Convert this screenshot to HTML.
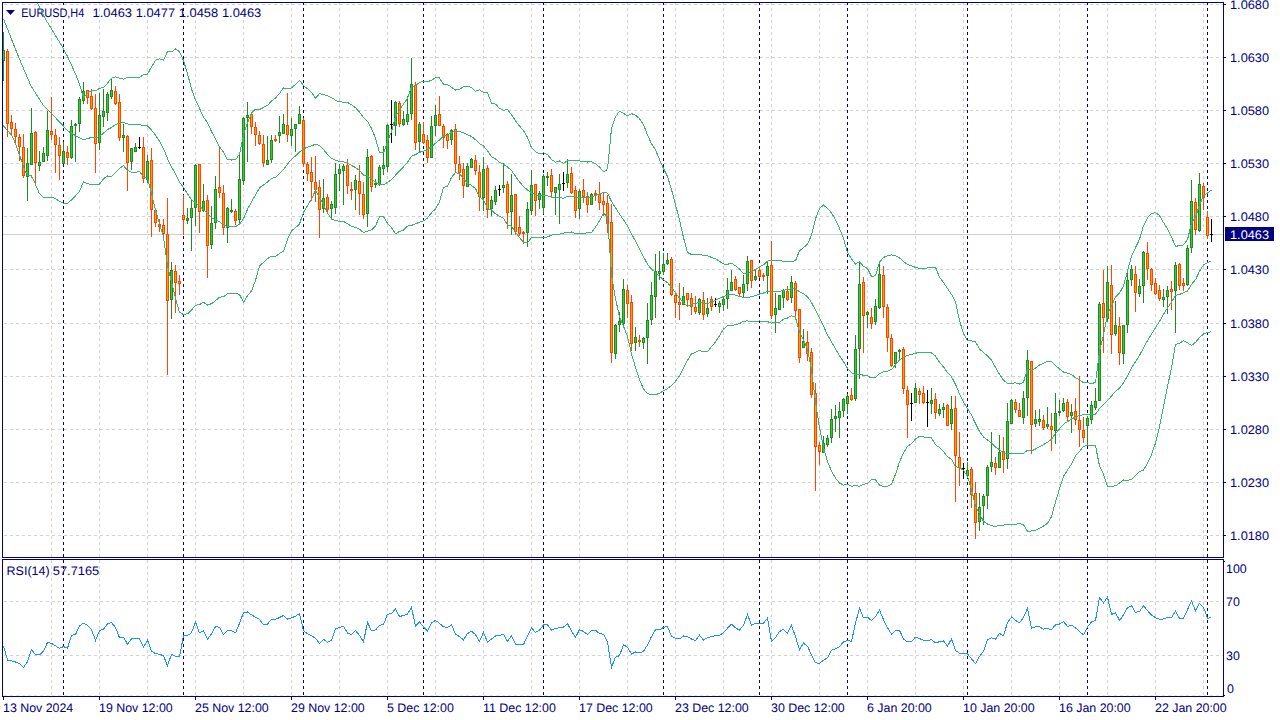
<!DOCTYPE html><html><head><meta charset="utf-8"><title>EURUSD,H4</title>
<style>html,body{margin:0;padding:0;background:#fff;width:1280px;height:720px;overflow:hidden}svg{display:block}text{font-family:"Liberation Sans",sans-serif;font-size:12.4px;fill:#000080}</style>
</head><body>
<svg width="1280" height="720" viewBox="0 0 1280 720" shape-rendering="crispEdges">
<rect width="1280" height="720" fill="#fff"/>
<path d="M51.5 2V557M51.5 560V696M99.5 2V557M99.5 560V696M147.5 2V557M147.5 560V696M195.5 2V557M195.5 560V696M243.5 2V557M243.5 560V696M291.5 2V557M291.5 560V696M339.5 2V557M339.5 560V696M387.5 2V557M387.5 560V696M435.5 2V557M435.5 560V696M483.5 2V557M483.5 560V696M531.5 2V557M531.5 560V696M579.5 2V557M579.5 560V696M627.5 2V557M627.5 560V696M675.5 2V557M675.5 560V696M723.5 2V557M723.5 560V696M771.5 2V557M771.5 560V696M819.5 2V557M819.5 560V696M867.5 2V557M867.5 560V696M915.5 2V557M915.5 560V696M963.5 2V557M963.5 560V696M1011.5 2V557M1011.5 560V696M1059.5 2V557M1059.5 560V696M1107.5 2V557M1107.5 560V696M1155.5 2V557M1155.5 560V696M1203.5 2V557M1203.5 560V696" stroke="#d2d2d2" stroke-width="1" stroke-dasharray="3,3" stroke-dashoffset="0" fill="none"/>
<path d="M4 4.5H1223M4 57.5H1223M4 110.5H1223M4 163.5H1223M4 216.5H1223M4 269.5H1223M4 323.5H1223M4 376.5H1223M4 429.5H1223M4 482.5H1223M4 535.5H1223M4 601.5H1223M4 655.5H1223" stroke="#d2d2d2" stroke-width="1" stroke-dasharray="3,3" fill="none"/>
<path d="M4 695.5H1223" stroke="#e6e6e0" stroke-width="1" stroke-dasharray="3,3" fill="none"/>
<path d="M3 234.5H1223" stroke="#d0d0d0" stroke-width="1" fill="none"/>
<path d="M63.5 2V5M63.5 20V557M63.5 560V696M183.5 2V557M183.5 560V696M303.5 2V557M303.5 560V696M423.5 2V557M423.5 560V696M543.5 2V557M543.5 560V696M663.5 2V557M663.5 560V696M759.5 2V557M759.5 560V696M847.5 2V557M847.5 560V696M967.5 2V557M967.5 560V696M1087.5 2V557M1087.5 560V696M1207.5 2V557M1207.5 560V696" stroke="#000080" stroke-width="1" stroke-dasharray="3,3" fill="none"/>
<g shape-rendering="auto" text-rendering="geometricPrecision">
<path d="M6 10H15L10.5 15Z" fill="#000080"/>
<text x="21.3" y="17" textLength="63" lengthAdjust="spacingAndGlyphs">EURUSD,H4</text>
<text x="92.6" y="17" textLength="39.4" lengthAdjust="spacingAndGlyphs">1.0463</text>
<text x="135.7" y="17" textLength="39.4" lengthAdjust="spacingAndGlyphs">1.0477</text>
<text x="178.8" y="17" textLength="39.4" lengthAdjust="spacingAndGlyphs">1.0458</text>
<text x="221.9" y="17" textLength="39.4" lengthAdjust="spacingAndGlyphs">1.0463</text>
<text x="6.6" y="575" textLength="43" lengthAdjust="spacingAndGlyphs">RSI(14)</text>
<text x="52.8" y="575" textLength="46.4" lengthAdjust="spacingAndGlyphs">57.7165</text>
</g>
<clipPath id="cm"><rect x="3" y="3" width="1220" height="554"/></clipPath>
<g clip-path="url(#cm)">
<path d="M3 32h1v49h-1zM2 50h3v11h-3zM27 148h1v53h-1zM26 163h3v14h-3zM31 108h1v57h-1zM30 133h3v32h-3zM39 151h1v20h-1zM38 162h3v4h-3zM43 147h1v15h-1zM42 153h3v9h-3zM47 111h1v50h-1zM46 130h3v26h-3zM63 142h1v22h-1zM62 151h3v13h-3zM71 120h1v39h-1zM70 126h3v32h-3zM75 123h1v39h-1zM74 124h3v2h-3zM79 97h1v35h-1zM78 99h3v25h-3zM83 82h1v22h-1zM82 91h3v10h-3zM99 93h1v57h-1zM98 115h3v28h-3zM103 89h1v38h-1zM102 111h3v6h-3zM107 92h1v29h-1zM106 94h3v19h-3zM111 79h1v20h-1zM110 90h3v7h-3zM123 124h1v28h-1zM122 135h3v3h-3zM131 148h1v22h-1zM130 148h3v14h-3zM135 143h1v9h-1zM134 147h3v5h-3zM147 155h1v28h-1zM146 161h3v19h-3zM171 262h1v57h-1zM170 270h3v30h-3zM187 208h1v16h-1zM186 218h3v3h-3zM191 200h1v51h-1zM190 208h3v10h-3zM195 164h1v62h-1zM194 165h3v43h-3zM203 184h1v28h-1zM202 201h3v10h-3zM211 206h1v43h-1zM210 223h3v22h-3zM215 176h1v53h-1zM214 189h3v34h-3zM227 207h1v36h-1zM226 208h3v20h-3zM231 199h1v14h-1zM230 210h3v2h-3zM239 154h1v70h-1zM238 179h3v41h-3zM243 117h1v68h-1zM242 118h3v63h-3zM247 102h1v60h-1zM246 115h3v3h-3zM267 136h1v29h-1zM266 160h3v5h-3zM271 135h1v28h-1zM270 140h3v20h-3zM279 116h1v27h-1zM278 132h3v4h-3zM283 114h1v20h-1zM282 124h3v10h-3zM291 118h1v28h-1zM290 129h3v7h-3zM295 124h1v28h-1zM294 124h3v5h-3zM299 106h1v18h-1zM298 114h3v10h-3zM323 179h1v34h-1zM322 198h3v11h-3zM331 201h1v17h-1zM330 204h3v5h-3zM335 163h1v51h-1zM334 174h3v34h-3zM339 164h1v27h-1zM338 169h3v5h-3zM343 164h1v41h-1zM342 166h3v5h-3zM355 175h1v35h-1zM354 180h3v10h-3zM367 149h1v78h-1zM366 157h3v57h-3zM375 179h1v9h-1zM374 183h3v2h-3zM379 165h1v21h-1zM378 167h3v18h-3zM383 146h1v29h-1zM382 165h3v4h-3zM387 124h1v48h-1zM386 125h3v42h-3zM395 101h1v35h-1zM394 102h3v24h-3zM403 111h1v15h-1zM402 119h3v6h-3zM407 96h1v29h-1zM406 114h3v8h-3zM411 58h1v62h-1zM410 84h3v30h-3zM419 122h1v31h-1zM418 124h3v18h-3zM431 116h1v42h-1zM430 126h3v32h-3zM435 105h1v31h-1zM434 115h3v11h-3zM451 129h1v16h-1zM450 130h3v10h-3zM467 163h1v24h-1zM466 166h3v21h-3zM471 158h1v10h-1zM470 159h3v9h-3zM483 157h1v54h-1zM482 169h3v29h-3zM491 196h1v20h-1zM490 200h3v9h-3zM495 186h1v19h-1zM494 190h3v12h-3zM503 163h1v30h-1zM502 185h3v3h-3zM511 174h1v61h-1zM510 195h3v17h-3zM527 202h1v45h-1zM526 209h3v24h-3zM531 170h1v45h-1zM530 185h3v26h-3zM539 191h1v18h-1zM538 193h3v7h-3zM543 174h1v40h-1zM542 176h3v32h-3zM547 172h1v14h-1zM546 176h3v2h-3zM555 187h1v28h-1zM554 187h3v6h-3zM559 174h1v50h-1zM558 184h3v6h-3zM567 159h1v29h-1zM566 174h3v9h-3zM579 189h1v30h-1zM578 191h3v18h-3zM591 193h1v12h-1zM590 194h3v11h-3zM615 324h1v35h-1zM614 325h3v29h-3zM619 312h1v20h-1zM618 321h3v4h-3zM623 279h1v46h-1zM622 289h3v35h-3zM635 327h1v24h-1zM634 337h3v6h-3zM643 337h1v12h-1zM642 338h3v5h-3zM647 303h1v61h-1zM646 320h3v18h-3zM651 282h1v43h-1zM650 295h3v25h-3zM655 254h1v64h-1zM654 271h3v26h-3zM659 251h1v29h-1zM658 271h3v3h-3zM663 253h1v22h-1zM662 264h3v8h-3zM667 253h1v12h-1zM666 260h3v4h-3zM683 287h1v18h-1zM682 296h3v9h-3zM699 298h1v17h-1zM698 299h3v14h-3zM707 298h1v19h-1zM706 308h3v6h-3zM719 301h1v12h-1zM718 303h3v4h-3zM723 297h1v14h-1zM722 299h3v6h-3zM727 278h1v31h-1zM726 290h3v9h-3zM731 270h1v21h-1zM730 282h3v9h-3zM743 275h1v23h-1zM742 284h3v9h-3zM747 256h1v35h-1zM746 261h3v23h-3zM755 270h1v11h-1zM754 276h3v4h-3zM767 262h1v32h-1zM766 266h3v10h-3zM775 293h1v40h-1zM774 308h3v7h-3zM779 295h1v15h-1zM778 295h3v15h-3zM783 289h1v19h-1zM782 290h3v8h-3zM791 276h1v27h-1zM790 282h3v16h-3zM803 329h1v19h-1zM802 341h3v7h-3zM823 436h1v17h-1zM822 443h3v10h-3zM827 435h1v12h-1zM826 438h3v7h-3zM831 409h1v34h-1zM830 419h3v19h-3zM835 405h1v27h-1zM834 416h3v3h-3zM839 402h1v36h-1zM838 411h3v7h-3zM843 398h1v19h-1zM842 399h3v12h-3zM847 394h1v20h-1zM846 396h3v8h-3zM855 335h1v66h-1zM854 349h3v50h-3zM859 263h1v116h-1zM858 284h3v65h-3zM867 311h1v17h-1zM866 312h3v3h-3zM875 299h1v26h-1zM874 306h3v16h-3zM879 262h1v47h-1zM878 274h3v34h-3zM895 352h1v16h-1zM894 352h3v12h-3zM899 349h1v11h-1zM898 350h3v2h-3zM915 383h1v20h-1zM914 388h3v15h-3zM931 388h1v26h-1zM930 400h3v4h-3zM939 404h1v12h-1zM938 409h3v5h-3zM943 403h1v15h-1zM942 407h3v3h-3zM951 396h1v34h-1zM950 409h3v15h-3zM967 462h1v16h-1zM966 470h3v6h-3zM979 493h1v38h-1zM978 507h3v15h-3zM983 494h1v31h-1zM982 496h3v10h-3zM987 465h1v44h-1zM986 467h3v29h-3zM991 432h1v40h-1zM990 462h3v5h-3zM999 435h1v33h-1zM998 452h3v16h-3zM1007 403h1v66h-1zM1006 421h3v38h-3zM1011 399h1v25h-1zM1010 400h3v24h-3zM1023 391h1v33h-1zM1022 398h3v20h-3zM1027 350h1v66h-1zM1026 360h3v38h-3zM1035 410h1v17h-1zM1034 419h3v5h-3zM1039 409h1v17h-1zM1038 419h3v3h-3zM1047 407h1v22h-1zM1046 424h3v3h-3zM1055 393h1v51h-1zM1054 413h3v18h-3zM1059 400h1v16h-1zM1058 411h3v2h-3zM1063 398h1v14h-1zM1062 403h3v8h-3zM1071 404h1v29h-1zM1070 412h3v4h-3zM1087 416h1v29h-1zM1086 418h3v8h-3zM1091 401h1v23h-1zM1090 405h3v15h-3zM1095 388h1v22h-1zM1094 401h3v7h-3zM1099 302h1v99h-1zM1098 304h3v97h-3zM1107 266h1v56h-1zM1106 282h3v37h-3zM1115 301h1v35h-1zM1114 325h3v9h-3zM1123 325h1v39h-1zM1122 325h3v29h-3zM1127 273h1v60h-1zM1126 280h3v45h-3zM1131 265h1v21h-1zM1130 269h3v11h-3zM1139 279h1v18h-1zM1138 286h3v8h-3zM1143 251h1v52h-1zM1142 252h3v34h-3zM1163 289h1v18h-1zM1162 297h3v3h-3zM1167 286h1v28h-1zM1166 290h3v7h-3zM1175 262h1v71h-1zM1174 265h3v26h-3zM1187 245h1v41h-1zM1186 248h3v37h-3zM1191 180h1v73h-1zM1190 201h3v47h-3zM1199 173h1v59h-1zM1198 184h3v47h-3z" fill="#228b22"/>
<path d="M7 49h1v88h-1zM6 51h3v73h-3zM11 115h1v20h-1zM10 122h3v7h-3zM15 123h1v20h-1zM14 129h3v8h-3zM19 134h1v27h-1zM18 137h3v10h-3zM23 134h1v44h-1zM22 147h3v29h-3zM35 131h1v53h-1zM34 132h3v31h-3zM51 97h1v43h-1zM50 131h3v4h-3zM55 129h1v44h-1zM54 135h3v10h-3zM59 137h1v43h-1zM58 145h3v11h-3zM67 146h1v19h-1zM66 152h3v6h-3zM87 90h1v14h-1zM86 90h3v8h-3zM91 89h1v21h-1zM90 96h3v13h-3zM95 94h1v79h-1zM94 108h3v36h-3zM115 86h1v19h-1zM114 91h3v13h-3zM119 94h1v47h-1zM118 102h3v36h-3zM127 135h1v56h-1zM126 136h3v27h-3zM143 137h1v46h-1zM142 147h3v32h-3zM151 148h1v89h-1zM150 160h3v50h-3zM155 210h1v17h-1zM154 210h3v13h-3zM159 219h1v13h-1zM158 224h3v3h-3zM163 219h1v17h-1zM162 225h3v9h-3zM167 198h1v177h-1zM166 234h3v67h-3zM175 265h1v48h-1zM174 271h3v12h-3zM179 275h1v20h-1zM178 281h3v3h-3zM183 195h1v40h-1zM182 215h3v5h-3zM199 164h1v69h-1zM198 164h3v48h-3zM207 195h1v83h-1zM206 200h3v46h-3zM219 148h1v50h-1zM218 187h3v6h-3zM223 185h1v50h-1zM222 193h3v35h-3zM235 209h1v16h-1zM234 211h3v10h-3zM251 112h1v22h-1zM250 114h3v13h-3zM255 122h1v24h-1zM254 127h3v8h-3zM259 131h1v14h-1zM258 135h3v9h-3zM263 135h1v32h-1zM262 144h3v19h-3zM275 135h1v7h-1zM274 139h3v2h-3zM287 93h1v49h-1zM286 125h3v10h-3zM303 118h1v49h-1zM302 120h3v44h-3zM307 162h1v19h-1zM306 164h3v10h-3zM311 157h1v44h-1zM310 172h3v10h-3zM315 156h1v46h-1zM314 182h3v8h-3zM319 180h1v58h-1zM318 187h3v23h-3zM327 194h1v20h-1zM326 197h3v13h-3zM347 159h1v35h-1zM346 165h3v21h-3zM351 182h1v18h-1zM350 189h3v2h-3zM359 165h1v50h-1zM358 181h3v13h-3zM363 182h1v37h-1zM362 194h3v21h-3zM371 155h1v37h-1zM370 156h3v31h-3zM399 101h1v26h-1zM398 103h3v21h-3zM415 82h1v68h-1zM414 85h3v58h-3zM423 122h1v22h-1zM422 134h3v9h-3zM427 135h1v28h-1zM426 140h3v18h-3zM439 96h1v30h-1zM438 114h3v12h-3zM443 124h1v24h-1zM442 126h3v12h-3zM447 133h1v16h-1zM446 134h3v7h-3zM455 124h1v49h-1zM454 129h3v35h-3zM459 156h1v24h-1zM458 164h3v9h-3zM463 163h1v35h-1zM462 169h3v17h-3zM475 155h1v20h-1zM474 160h3v11h-3zM479 165h1v46h-1zM478 172h3v25h-3zM487 165h1v53h-1zM486 168h3v42h-3zM507 181h1v48h-1zM506 184h3v29h-3zM515 194h1v41h-1zM514 194h3v38h-3zM519 216h1v20h-1zM518 227h3v7h-3zM523 231h1v13h-1zM522 232h3v2h-3zM535 184h1v32h-1zM534 184h3v17h-3zM551 169h1v29h-1zM550 175h3v17h-3zM571 167h1v27h-1zM570 173h3v20h-3zM575 186h1v32h-1zM574 190h3v21h-3zM583 179h1v24h-1zM582 190h3v7h-3zM587 192h1v21h-1zM586 196h3v9h-3zM595 190h1v11h-1zM594 193h3v2h-3zM599 182h1v28h-1zM598 194h3v9h-3zM603 192h1v24h-1zM602 201h3v4h-3zM607 195h1v38h-1zM606 203h3v21h-3zM611 204h1v159h-1zM610 222h3v131h-3zM627 285h1v33h-1zM626 290h3v14h-3zM631 295h1v56h-1zM630 302h3v42h-3zM639 335h1v12h-1zM638 340h3v2h-3zM671 257h1v39h-1zM670 259h3v36h-3zM675 292h1v26h-1zM674 295h3v8h-3zM679 283h1v37h-1zM678 302h3v3h-3zM687 293h1v13h-1zM686 293h3v7h-3zM691 293h1v22h-1zM690 298h3v9h-3zM695 296h1v18h-1zM694 307h3v5h-3zM703 292h1v28h-1zM702 300h3v15h-3zM711 296h1v15h-1zM710 299h3v8h-3zM735 276h1v15h-1zM734 279h3v11h-3zM739 287h1v9h-1zM738 287h3v7h-3zM751 260h1v28h-1zM750 260h3v21h-3zM759 266h1v12h-1zM758 270h3v7h-3zM763 273h1v8h-1zM762 275h3v2h-3zM771 241h1v78h-1zM770 265h3v51h-3zM787 286h1v15h-1zM786 291h3v9h-3zM795 281h1v39h-1zM794 283h3v28h-3zM799 309h1v54h-1zM798 309h3v49h-3zM807 331h1v30h-1zM806 342h3v12h-3zM811 348h1v50h-1zM810 352h3v43h-3zM815 383h1v108h-1zM814 393h3v54h-3zM819 442h1v23h-1zM818 445h3v7h-3zM851 388h1v13h-1zM850 395h3v5h-3zM863 277h1v76h-1zM862 282h3v34h-3zM871 308h1v21h-1zM870 317h3v7h-3zM883 266h1v52h-1zM882 275h3v32h-3zM887 304h1v48h-1zM886 307h3v31h-3zM891 334h1v33h-1zM890 338h3v28h-3zM903 347h1v47h-1zM902 349h3v40h-3zM907 386h1v52h-1zM906 390h3v15h-3zM919 388h1v16h-1zM918 391h3v4h-3zM923 386h1v18h-1zM922 393h3v10h-3zM935 393h1v26h-1zM934 399h3v14h-3zM947 404h1v22h-1zM946 405h3v21h-3zM955 396h1v106h-1zM954 408h3v48h-3zM959 432h1v54h-1zM958 457h3v11h-3zM971 467h1v41h-1zM970 469h3v26h-3zM975 482h1v57h-1zM974 493h3v30h-3zM995 457h1v18h-1zM994 463h3v5h-3zM1003 437h1v36h-1zM1002 451h3v9h-3zM1015 399h1v14h-1zM1014 402h3v8h-3zM1019 403h1v14h-1zM1018 410h3v7h-3zM1031 361h1v93h-1zM1030 361h3v64h-3zM1043 415h1v15h-1zM1042 420h3v8h-3zM1051 413h1v38h-1zM1050 426h3v4h-3zM1067 399h1v22h-1zM1066 402h3v15h-3zM1075 398h1v27h-1zM1074 411h3v9h-3zM1079 376h1v71h-1zM1078 420h3v10h-3zM1083 417h1v26h-1zM1082 430h3v8h-3zM1103 270h1v83h-1zM1102 303h3v15h-3zM1111 265h1v89h-1zM1110 285h3v50h-3zM1119 317h1v48h-1zM1118 326h3v27h-3zM1135 266h1v46h-1zM1134 274h3v19h-3zM1147 242h1v38h-1zM1146 253h3v16h-3zM1151 268h1v23h-1zM1150 269h3v16h-3zM1155 278h1v17h-1zM1154 283h3v11h-3zM1159 285h1v16h-1zM1158 290h3v9h-3zM1171 281h1v29h-1zM1170 289h3v3h-3zM1179 263h1v27h-1zM1178 264h3v22h-3zM1183 278h1v13h-1zM1182 283h3v3h-3zM1195 198h1v37h-1zM1194 202h3v28h-3zM1203 183h1v27h-1zM1202 186h3v12h-3zM1207 211h1v28h-1zM1206 217h3v19h-3z" fill="#ff4500"/>
<path d="M139 137h1v12h-1zM138 147h3v1h-3zM391 100h1v43h-1zM390 124h3v1h-3zM499 185h1v11h-1zM498 189h3v1h-3zM563 172h1v19h-1zM562 183h3v1h-3zM715 298h1v9h-1zM714 304h3v1h-3zM911 393h1v28h-1zM910 403h3v1h-3zM927 390h1v37h-1zM926 402h3v1h-3zM963 463h1v16h-1zM962 468h3v1h-3zM1211 219h1v23h-1zM1210 234h3v1h-3z" fill="#000"/>
<path d="M3 51h1v9h-1zM27 164h1v12h-1zM31 134h1v30h-1zM39 163h1v2h-1zM43 154h1v7h-1zM47 131h1v24h-1zM63 152h1v11h-1zM71 127h1v30h-1zM79 100h1v23h-1zM83 92h1v8h-1zM99 116h1v26h-1zM103 112h1v4h-1zM107 95h1v17h-1zM111 91h1v5h-1zM123 136h1v1h-1zM131 149h1v12h-1zM135 148h1v3h-1zM147 162h1v17h-1zM171 271h1v28h-1zM187 219h1v1h-1zM191 209h1v8h-1zM195 166h1v41h-1zM203 202h1v8h-1zM211 224h1v20h-1zM215 190h1v32h-1zM227 209h1v18h-1zM239 180h1v39h-1zM243 119h1v61h-1zM247 116h1v1h-1zM267 161h1v3h-1zM271 141h1v18h-1zM279 133h1v2h-1zM283 125h1v8h-1zM291 130h1v5h-1zM295 125h1v3h-1zM299 115h1v8h-1zM323 199h1v9h-1zM331 205h1v3h-1zM335 175h1v32h-1zM339 170h1v3h-1zM343 167h1v3h-1zM355 181h1v8h-1zM367 158h1v55h-1zM379 168h1v16h-1zM383 166h1v2h-1zM387 126h1v40h-1zM395 103h1v22h-1zM403 120h1v4h-1zM407 115h1v6h-1zM411 85h1v28h-1zM419 125h1v16h-1zM431 127h1v30h-1zM435 116h1v9h-1zM451 131h1v8h-1zM467 167h1v19h-1zM471 160h1v7h-1zM483 170h1v27h-1zM491 201h1v7h-1zM495 191h1v10h-1zM503 186h1v1h-1zM511 196h1v15h-1zM527 210h1v22h-1zM531 186h1v24h-1zM539 194h1v5h-1zM543 177h1v30h-1zM555 188h1v4h-1zM559 185h1v4h-1zM567 175h1v7h-1zM579 192h1v16h-1zM591 195h1v9h-1zM615 326h1v27h-1zM619 322h1v2h-1zM623 290h1v33h-1zM635 338h1v4h-1zM643 339h1v3h-1zM647 321h1v16h-1zM651 296h1v23h-1zM655 272h1v24h-1zM659 272h1v1h-1zM663 265h1v6h-1zM667 261h1v2h-1zM683 297h1v7h-1zM699 300h1v12h-1zM707 309h1v4h-1zM719 304h1v2h-1zM723 300h1v4h-1zM727 291h1v7h-1zM731 283h1v7h-1zM743 285h1v7h-1zM747 262h1v21h-1zM755 277h1v2h-1zM767 267h1v8h-1zM775 309h1v5h-1zM779 296h1v13h-1zM783 291h1v6h-1zM791 283h1v14h-1zM803 342h1v5h-1zM823 444h1v8h-1zM827 439h1v5h-1zM831 420h1v17h-1zM835 417h1v1h-1zM839 412h1v5h-1zM843 400h1v10h-1zM847 397h1v6h-1zM855 350h1v48h-1zM859 285h1v63h-1zM867 313h1v1h-1zM875 307h1v14h-1zM879 275h1v32h-1zM895 353h1v10h-1zM915 389h1v13h-1zM931 401h1v2h-1zM939 410h1v3h-1zM943 408h1v1h-1zM951 410h1v13h-1zM967 471h1v4h-1zM979 508h1v13h-1zM983 497h1v8h-1zM987 468h1v27h-1zM991 463h1v3h-1zM999 453h1v14h-1zM1007 422h1v36h-1zM1011 401h1v22h-1zM1023 399h1v18h-1zM1027 361h1v36h-1zM1035 420h1v3h-1zM1039 420h1v1h-1zM1047 425h1v1h-1zM1055 414h1v16h-1zM1063 404h1v6h-1zM1071 413h1v2h-1zM1087 419h1v6h-1zM1091 406h1v13h-1zM1095 402h1v5h-1zM1099 305h1v95h-1zM1107 283h1v35h-1zM1115 326h1v7h-1zM1123 326h1v27h-1zM1127 281h1v43h-1zM1131 270h1v9h-1zM1139 287h1v6h-1zM1143 253h1v32h-1zM1163 298h1v1h-1zM1167 291h1v5h-1zM1175 266h1v24h-1zM1187 249h1v35h-1zM1191 202h1v45h-1zM1199 185h1v45h-1z" fill="#32cd32"/>
<path d="M7 52h1v71h-1zM11 123h1v5h-1zM15 130h1v6h-1zM19 138h1v8h-1zM23 148h1v27h-1zM35 133h1v29h-1zM51 132h1v2h-1zM55 136h1v8h-1zM59 146h1v9h-1zM67 153h1v4h-1zM87 91h1v6h-1zM91 97h1v11h-1zM95 109h1v34h-1zM115 92h1v11h-1zM119 103h1v34h-1zM127 137h1v25h-1zM143 148h1v30h-1zM151 161h1v48h-1zM155 211h1v11h-1zM159 225h1v1h-1zM163 226h1v7h-1zM167 235h1v65h-1zM175 272h1v10h-1zM179 282h1v1h-1zM183 216h1v3h-1zM199 165h1v46h-1zM207 201h1v44h-1zM219 188h1v4h-1zM223 194h1v33h-1zM235 212h1v8h-1zM251 115h1v11h-1zM255 128h1v6h-1zM259 136h1v7h-1zM263 145h1v17h-1zM287 126h1v8h-1zM303 121h1v42h-1zM307 165h1v8h-1zM311 173h1v8h-1zM315 183h1v6h-1zM319 188h1v21h-1zM327 198h1v11h-1zM347 166h1v19h-1zM359 182h1v11h-1zM363 195h1v19h-1zM371 157h1v29h-1zM399 104h1v19h-1zM415 86h1v56h-1zM423 135h1v7h-1zM427 141h1v16h-1zM439 115h1v10h-1zM443 127h1v10h-1zM447 135h1v5h-1zM455 130h1v33h-1zM459 165h1v7h-1zM463 170h1v15h-1zM475 161h1v9h-1zM479 173h1v23h-1zM487 169h1v40h-1zM507 185h1v27h-1zM515 195h1v36h-1zM519 228h1v5h-1zM535 185h1v15h-1zM551 176h1v15h-1zM571 174h1v18h-1zM575 191h1v19h-1zM583 191h1v5h-1zM587 197h1v7h-1zM599 195h1v7h-1zM603 202h1v2h-1zM607 204h1v19h-1zM611 223h1v129h-1zM627 291h1v12h-1zM631 303h1v40h-1zM671 260h1v34h-1zM675 296h1v6h-1zM679 303h1v1h-1zM687 294h1v5h-1zM691 299h1v7h-1zM695 308h1v3h-1zM703 301h1v13h-1zM711 300h1v6h-1zM735 280h1v9h-1zM739 288h1v5h-1zM751 261h1v19h-1zM759 271h1v5h-1zM771 266h1v49h-1zM787 292h1v7h-1zM795 284h1v26h-1zM799 310h1v47h-1zM807 343h1v10h-1zM811 353h1v41h-1zM815 394h1v52h-1zM819 446h1v5h-1zM851 396h1v3h-1zM863 283h1v32h-1zM871 318h1v5h-1zM883 276h1v30h-1zM887 308h1v29h-1zM891 339h1v26h-1zM903 350h1v38h-1zM907 391h1v13h-1zM919 392h1v2h-1zM923 394h1v8h-1zM935 400h1v12h-1zM947 406h1v19h-1zM955 409h1v46h-1zM959 458h1v9h-1zM971 470h1v24h-1zM975 494h1v28h-1zM995 464h1v3h-1zM1003 452h1v7h-1zM1015 403h1v6h-1zM1019 411h1v5h-1zM1031 362h1v62h-1zM1043 421h1v6h-1zM1051 427h1v2h-1zM1067 403h1v13h-1zM1075 412h1v7h-1zM1079 421h1v8h-1zM1083 431h1v6h-1zM1103 304h1v13h-1zM1111 286h1v48h-1zM1119 327h1v25h-1zM1135 275h1v17h-1zM1147 254h1v14h-1zM1151 270h1v14h-1zM1155 284h1v9h-1zM1159 291h1v7h-1zM1171 290h1v1h-1zM1179 265h1v20h-1zM1183 284h1v1h-1zM1195 203h1v26h-1zM1203 187h1v10h-1zM1207 218h1v17h-1z" fill="#ffa000"/>
<polyline points="37.0,2.0 46.0,20.0 62.5,47.0 68.0,57.5 76.0,75.0 79.5,84.2 83.5,98.0 87.5,93.2 91.5,90.5 95.5,90.8 99.5,88.4 103.5,87.5 107.5,83.3 111.5,78.1 115.5,76.8 119.5,78.3 123.5,79.2 127.5,77.5 131.5,77.2 135.5,77.1 139.5,77.6 143.5,74.6 147.5,74.2 151.5,66.9 155.5,60.3 159.5,58.8 163.5,60.1 167.5,51.5 171.5,51.9 175.5,49.0 179.5,51.8 183.5,60.5 187.5,73.6 191.5,89.2 195.5,100.1 199.5,108.3 203.5,117.1 207.5,122.7 211.5,131.5 215.5,138.7 219.5,146.8 223.5,152.0 227.5,159.9 231.5,160.0 235.5,159.8 239.5,154.3 243.5,134.9 247.5,122.9 251.5,113.2 255.5,109.1 259.5,109.6 263.5,107.4 267.5,105.4 271.5,100.9 275.5,98.1 279.5,93.4 283.5,87.9 287.5,88.8 291.5,87.8 295.5,84.4 299.5,80.3 303.5,85.6 307.5,88.7 311.5,92.4 315.5,98.3 319.5,93.7 323.5,94.6 327.5,95.9 331.5,97.5 335.5,100.2 339.5,101.9 343.5,102.1 347.5,102.5 351.5,104.8 355.5,107.7 359.5,112.0 363.5,117.7 367.5,121.3 371.5,128.4 375.5,138.1 379.5,152.6 383.5,153.0 387.5,141.5 391.5,131.4 395.5,116.7 399.5,110.4 403.5,103.9 407.5,98.3 411.5,86.9 415.5,85.5 419.5,82.4 423.5,81.4 427.5,81.6 431.5,80.4 435.5,77.7 439.5,78.0 443.5,84.4 447.5,84.4 451.5,87.3 455.5,90.1 459.5,89.5 463.5,86.6 467.5,86.5 471.5,87.4 475.5,91.3 479.5,89.8 483.5,92.4 487.5,92.7 491.5,103.2 495.5,104.1 499.5,108.3 503.5,110.4 507.5,109.4 511.5,114.8 515.5,120.7 519.5,126.1 523.5,130.5 527.5,137.4 531.5,147.8 535.5,151.6 539.5,153.9 543.5,152.8 547.5,154.5 551.5,159.5 555.5,162.1 559.5,161.0 563.5,163.4 567.5,160.6 571.5,160.2 575.5,160.8 579.5,160.9 583.5,161.9 587.5,162.0 591.5,161.9 595.5,163.7 599.5,167.0 603.5,171.7 607.5,169.5 611.5,128.5 615.5,117.0 619.5,111.2 623.5,113.4 627.5,115.9 631.5,113.6 635.5,115.1 639.5,118.7 643.5,124.6 647.5,134.9 651.5,143.8 655.5,149.8 659.5,159.5 663.5,168.6 667.5,176.5 671.5,189.5 675.5,204.7 679.5,220.1 683.5,237.6 687.5,252.5 691.5,254.5 695.5,254.6 699.5,254.2 703.5,255.5 707.5,255.7 711.5,257.4 715.5,258.7 719.5,261.2 723.5,264.0 727.5,264.3 731.5,263.1 735.5,265.8 739.5,269.0 743.5,273.5 747.5,273.9 751.5,272.0 755.5,269.3 759.5,267.0 763.5,264.9 767.5,261.1 771.5,260.5 775.5,260.7 779.5,260.6 783.5,261.2 787.5,261.6 791.5,261.3 795.5,260.8 799.5,250.9 803.5,247.7 807.5,244.1 811.5,235.3 815.5,218.9 819.5,208.6 823.5,205.1 827.5,208.4 831.5,212.9 835.5,219.8 839.5,228.4 843.5,238.6 847.5,252.5 851.5,258.7 855.5,264.0 859.5,261.8 863.5,266.3 867.5,268.6 871.5,276.5 875.5,275.7 879.5,262.2 883.5,257.4 887.5,255.9 891.5,254.9 895.5,255.6 899.5,257.9 903.5,261.5 907.5,264.5 911.5,265.7 915.5,267.4 919.5,268.5 923.5,268.3 927.5,268.0 931.5,267.9 935.5,267.3 939.5,277.1 943.5,282.4 947.5,288.4 951.5,294.4 955.5,301.8 959.5,320.6 963.5,333.6 967.5,340.9 971.5,340.9 975.5,341.7 979.5,349.1 983.5,352.4 987.5,356.0 991.5,360.2 995.5,367.5 999.5,374.2 1003.5,380.2 1007.5,383.3 1011.5,383.3 1015.5,382.8 1019.5,384.0 1023.5,382.2 1027.5,368.9 1031.5,370.9 1035.5,368.0 1039.5,365.0 1043.5,363.2 1047.5,361.3 1051.5,361.5 1055.5,365.4 1059.5,369.0 1063.5,372.0 1067.5,373.3 1071.5,374.4 1075.5,377.8 1079.5,379.6 1083.5,382.9 1087.5,382.8 1091.5,383.4 1095.5,382.6 1099.5,351.2 1103.5,334.7 1107.5,314.5 1111.5,306.1 1115.5,297.0 1119.5,293.1 1123.5,286.0 1127.5,271.0 1131.5,256.3 1135.5,247.7 1139.5,239.3 1143.5,225.7 1147.5,217.8 1151.5,213.6 1155.5,212.7 1159.5,215.5 1163.5,222.5 1167.5,229.0 1171.5,236.9 1175.5,246.5 1179.5,245.5 1183.5,244.9 1187.5,239.6 1191.5,223.4 1195.5,217.1 1199.5,204.9 1203.5,195.9 1207.5,192.9 1211.5,190.1" fill="none" stroke="#3cb371" stroke-width="1"/>
<polyline points="3.5,19.0 18.8,57.5 31.0,86.0 40.0,100.0 43.0,105.0 51.0,113.0 60.0,122.5 68.0,131.0 76.0,136.0 79.5,137.8 83.5,139.8 87.5,138.5 91.5,137.5 95.5,137.8 99.5,136.3 103.5,133.1 107.5,129.6 111.5,127.5 115.5,124.5 119.5,123.3 123.5,122.4 127.5,124.0 131.5,124.7 135.5,124.9 139.5,124.5 143.5,125.8 147.5,126.0 151.5,130.1 155.5,135.0 159.5,141.4 163.5,148.5 167.5,158.6 171.5,166.8 175.5,173.7 179.5,182.1 183.5,187.5 187.5,193.7 191.5,199.6 195.5,202.7 199.5,206.4 203.5,209.7 207.5,213.8 211.5,217.6 215.5,219.7 219.5,221.9 223.5,224.4 227.5,226.8 231.5,226.8 235.5,226.7 239.5,224.3 243.5,218.6 247.5,209.3 251.5,202.1 255.5,194.8 259.5,187.8 263.5,184.9 267.5,182.0 271.5,178.6 275.5,177.3 279.5,173.4 283.5,169.5 287.5,164.0 291.5,159.3 295.5,156.0 299.5,152.1 303.5,148.9 307.5,147.2 311.5,145.8 315.5,144.2 319.5,145.7 323.5,149.7 327.5,154.4 331.5,158.3 335.5,160.3 339.5,161.6 343.5,161.8 347.5,163.0 351.5,165.5 355.5,167.5 359.5,170.6 363.5,175.1 367.5,176.2 371.5,179.1 375.5,182.0 379.5,184.7 383.5,184.8 387.5,182.4 391.5,179.5 395.5,175.2 399.5,170.9 403.5,166.9 407.5,162.2 411.5,156.2 415.5,154.6 419.5,152.3 423.5,151.1 427.5,149.8 431.5,146.5 435.5,143.3 439.5,139.9 443.5,136.0 447.5,135.2 451.5,132.4 455.5,131.4 459.5,131.6 463.5,132.6 467.5,134.7 471.5,136.4 475.5,139.8 479.5,143.5 483.5,146.0 487.5,150.8 491.5,156.5 495.5,158.9 499.5,162.2 503.5,164.3 507.5,167.1 511.5,170.5 515.5,176.3 519.5,181.8 523.5,186.5 527.5,190.0 531.5,192.8 535.5,194.6 539.5,195.6 543.5,195.2 547.5,195.7 551.5,197.3 555.5,198.1 559.5,197.5 563.5,198.2 567.5,196.5 571.5,196.1 575.5,197.1 579.5,197.2 583.5,197.8 587.5,197.3 591.5,197.3 595.5,195.4 599.5,193.9 603.5,192.4 607.5,193.1 611.5,201.5 615.5,207.8 619.5,214.1 623.5,219.8 627.5,226.1 631.5,233.8 635.5,241.2 639.5,249.1 643.5,256.8 647.5,264.1 651.5,269.3 655.5,272.3 659.5,276.3 663.5,279.8 667.5,282.6 671.5,287.6 675.5,292.9 679.5,298.1 683.5,302.6 687.5,306.4 691.5,304.1 695.5,303.4 699.5,302.3 703.5,303.6 707.5,303.8 711.5,302.0 715.5,300.3 719.5,298.4 723.5,296.5 727.5,295.0 731.5,294.3 735.5,295.2 739.5,296.3 743.5,297.3 747.5,297.4 751.5,296.7 755.5,295.4 759.5,294.0 763.5,293.0 767.5,291.3 771.5,291.8 775.5,291.6 779.5,291.4 783.5,290.2 787.5,289.8 791.5,288.6 795.5,288.9 799.5,291.6 803.5,293.7 807.5,296.8 811.5,302.4 815.5,310.3 819.5,318.2 823.5,326.1 827.5,335.0 831.5,341.9 835.5,348.9 839.5,355.7 843.5,361.8 847.5,368.3 851.5,372.6 855.5,374.6 859.5,374.1 863.5,375.3 867.5,375.9 871.5,378.0 875.5,377.8 879.5,373.6 883.5,371.9 887.5,371.1 891.5,369.6 895.5,364.9 899.5,359.9 903.5,357.1 907.5,355.4 911.5,354.6 915.5,353.2 919.5,352.4 923.5,352.6 927.5,352.8 931.5,352.9 935.5,356.1 939.5,362.3 943.5,366.9 947.5,372.6 951.5,376.8 955.5,384.3 959.5,393.9 963.5,402.1 967.5,408.7 971.5,415.1 975.5,423.6 979.5,431.5 983.5,436.9 987.5,440.1 991.5,443.0 995.5,446.9 999.5,449.8 1003.5,452.7 1007.5,453.6 1011.5,453.6 1015.5,453.5 1019.5,453.8 1023.5,453.4 1027.5,450.1 1031.5,450.9 1035.5,449.1 1039.5,446.7 1043.5,444.6 1047.5,442.3 1051.5,439.1 1055.5,433.6 1059.5,428.8 1063.5,424.2 1067.5,421.6 1071.5,419.1 1075.5,416.8 1079.5,415.6 1083.5,414.5 1087.5,414.3 1091.5,414.6 1095.5,414.2 1099.5,408.6 1103.5,404.6 1107.5,400.6 1111.5,396.1 1115.5,391.4 1119.5,388.1 1123.5,383.0 1127.5,375.8 1131.5,367.8 1135.5,361.8 1139.5,355.5 1143.5,347.9 1147.5,340.6 1151.5,334.1 1155.5,327.8 1159.5,321.3 1163.5,314.3 1167.5,307.9 1171.5,302.2 1175.5,295.4 1179.5,294.4 1183.5,292.8 1187.5,291.1 1191.5,284.5 1195.5,279.7 1199.5,271.3 1203.5,264.9 1207.5,262.6 1211.5,260.9" fill="none" stroke="#3cb371" stroke-width="1"/>
<polyline points="2.8,125.0 7.5,130.5 12.5,136.5 16.0,145.0 20.0,156.5 25.0,171.0 28.0,175.0 31.0,175.6 34.0,181.0 37.5,189.0 38.8,192.5 43.0,197.0 52.5,197.0 57.5,200.0 63.0,203.0 67.5,203.5 73.8,197.8 78.0,193.0 79.5,191.3 83.5,181.6 87.5,183.8 91.5,184.5 95.5,184.9 99.5,184.2 103.5,178.7 107.5,176.0 111.5,176.9 115.5,172.3 119.5,168.3 123.5,165.6 127.5,170.5 131.5,172.2 135.5,172.6 139.5,171.3 143.5,177.0 147.5,177.8 151.5,193.4 155.5,209.8 159.5,224.0 163.5,236.9 167.5,265.8 171.5,281.6 175.5,298.4 179.5,312.4 183.5,314.5 187.5,313.8 191.5,310.0 195.5,305.3 199.5,304.5 203.5,302.3 207.5,305.0 211.5,303.7 215.5,300.7 219.5,297.1 223.5,296.8 227.5,293.6 231.5,293.6 235.5,293.6 239.5,294.4 243.5,302.3 247.5,295.8 251.5,291.1 255.5,280.4 259.5,265.9 263.5,262.4 267.5,258.6 271.5,256.3 275.5,256.6 279.5,253.4 283.5,251.2 287.5,239.2 291.5,230.8 295.5,227.7 299.5,224.0 303.5,212.3 307.5,205.7 311.5,199.1 315.5,190.1 319.5,197.7 323.5,204.8 327.5,212.9 331.5,219.1 335.5,220.4 339.5,221.3 343.5,221.5 347.5,223.6 351.5,226.3 355.5,227.4 359.5,229.2 363.5,232.5 367.5,231.2 371.5,229.8 375.5,226.0 379.5,216.8 383.5,216.6 387.5,223.3 391.5,227.7 395.5,233.7 399.5,231.4 403.5,230.0 407.5,226.1 411.5,225.5 415.5,223.7 419.5,222.3 423.5,220.9 427.5,217.9 431.5,212.7 435.5,208.9 439.5,201.8 443.5,187.7 447.5,186.0 451.5,177.5 455.5,172.7 459.5,173.8 463.5,178.7 467.5,182.9 471.5,185.5 475.5,188.4 479.5,197.2 483.5,199.6 487.5,208.8 491.5,209.9 495.5,213.8 499.5,216.1 503.5,218.3 507.5,224.8 511.5,226.3 515.5,232.0 519.5,237.4 523.5,242.6 527.5,242.6 531.5,237.7 535.5,237.6 539.5,237.4 543.5,237.6 547.5,236.9 551.5,235.1 555.5,234.2 559.5,234.1 563.5,233.1 567.5,232.4 571.5,232.0 575.5,233.4 579.5,233.5 583.5,233.6 587.5,232.7 591.5,232.7 595.5,227.2 599.5,220.8 603.5,213.2 607.5,216.8 611.5,274.5 615.5,298.5 619.5,317.1 623.5,326.2 627.5,336.4 631.5,353.9 635.5,367.4 639.5,379.5 643.5,389.1 647.5,393.4 651.5,394.8 655.5,394.9 659.5,393.2 663.5,390.9 667.5,388.6 671.5,385.6 675.5,381.2 679.5,376.0 683.5,367.7 687.5,360.4 691.5,353.8 695.5,352.3 699.5,350.5 703.5,351.7 707.5,352.0 711.5,346.6 715.5,342.0 719.5,335.7 723.5,329.0 727.5,325.7 731.5,325.6 735.5,324.7 739.5,323.7 743.5,321.2 747.5,320.9 751.5,321.4 755.5,321.5 759.5,321.0 763.5,321.1 767.5,321.6 771.5,323.1 775.5,322.6 779.5,322.3 783.5,319.3 787.5,318.0 791.5,315.9 795.5,317.0 799.5,332.3 803.5,339.7 807.5,349.6 811.5,369.6 815.5,401.7 819.5,427.8 823.5,447.2 827.5,461.6 831.5,471.0 835.5,478.1 839.5,483.0 843.5,485.1 847.5,484.2 851.5,486.4 855.5,485.2 859.5,486.3 863.5,484.3 867.5,483.3 871.5,479.5 875.5,479.9 879.5,485.1 883.5,486.4 887.5,486.3 891.5,484.4 895.5,474.3 899.5,461.9 903.5,452.8 907.5,446.4 911.5,443.6 915.5,439.1 919.5,436.3 923.5,436.8 927.5,437.7 931.5,437.9 935.5,444.8 939.5,447.5 943.5,451.4 947.5,456.7 951.5,459.3 955.5,466.8 959.5,467.3 963.5,470.5 967.5,476.5 971.5,489.4 975.5,505.6 979.5,513.9 983.5,521.4 987.5,524.1 991.5,525.8 995.5,526.4 999.5,525.5 1003.5,525.2 1007.5,524.0 1011.5,524.0 1015.5,524.2 1019.5,523.7 1023.5,524.6 1027.5,531.4 1031.5,530.9 1035.5,530.2 1039.5,528.4 1043.5,526.1 1047.5,523.4 1051.5,516.7 1055.5,501.9 1059.5,488.7 1063.5,476.4 1067.5,470.0 1071.5,463.9 1075.5,455.7 1079.5,451.6 1083.5,446.1 1087.5,445.9 1091.5,445.8 1095.5,445.8 1099.5,466.0 1103.5,474.4 1107.5,486.8 1111.5,486.2 1115.5,485.9 1119.5,483.1 1123.5,480.0 1127.5,480.6 1131.5,479.3 1135.5,475.8 1139.5,471.7 1143.5,470.2 1147.5,463.3 1151.5,454.7 1155.5,443.0 1159.5,427.1 1163.5,406.1 1167.5,386.8 1171.5,367.5 1175.5,344.3 1179.5,343.4 1183.5,340.8 1187.5,342.7 1191.5,345.6 1195.5,342.3 1199.5,337.7 1203.5,333.9 1207.5,332.4 1211.5,331.7" fill="none" stroke="#3cb371" stroke-width="1"/>
</g>
<polyline points="3.5,645.7 7.5,660.1 11.5,660.8 15.5,662.0 19.5,663.5 23.5,667.4 27.5,661.9 31.5,649.7 35.5,654.8 39.5,654.8 43.5,651.2 47.5,642.5 51.5,643.4 55.5,645.8 59.5,648.4 63.5,646.6 67.5,648.2 71.5,635.4 75.5,634.6 79.5,625.8 83.5,623.2 87.5,625.5 91.5,629.5 95.5,640.4 99.5,630.6 103.5,629.2 107.5,623.8 111.5,622.6 115.5,627.3 119.5,637.8 123.5,637.1 127.5,644.3 131.5,638.9 135.5,638.5 139.5,638.5 143.5,647.1 147.5,640.1 151.5,651.2 155.5,653.6 159.5,654.3 163.5,655.7 167.5,665.7 171.5,654.4 175.5,656.3 179.5,656.4 183.5,635.9 187.5,635.6 191.5,632.8 195.5,622.2 199.5,632.9 203.5,630.5 207.5,639.3 211.5,634.0 215.5,626.6 219.5,627.3 223.5,634.6 227.5,630.2 231.5,630.7 235.5,632.9 239.5,623.4 243.5,612.5 247.5,612.0 251.5,614.9 255.5,617.1 259.5,619.5 263.5,624.6 267.5,624.1 271.5,619.4 275.5,619.4 279.5,617.5 283.5,615.5 287.5,619.1 291.5,617.7 295.5,616.3 299.5,613.5 303.5,630.8 307.5,633.7 311.5,635.9 315.5,638.2 319.5,643.5 323.5,639.2 327.5,642.2 331.5,640.2 335.5,629.0 339.5,627.3 343.5,626.3 347.5,633.0 351.5,634.7 355.5,630.7 359.5,635.3 363.5,641.9 367.5,622.2 371.5,630.9 375.5,630.0 379.5,625.2 383.5,624.6 387.5,614.1 391.5,613.8 395.5,608.8 399.5,616.5 403.5,615.5 407.5,614.2 411.5,607.2 415.5,626.3 419.5,621.9 423.5,626.9 427.5,630.8 431.5,622.9 435.5,620.4 439.5,623.3 443.5,626.8 447.5,627.6 451.5,624.7 455.5,634.3 459.5,636.6 463.5,639.9 467.5,633.5 471.5,631.3 475.5,634.5 479.5,641.4 483.5,632.4 487.5,642.0 491.5,639.1 495.5,635.9 499.5,635.6 503.5,634.2 507.5,641.5 511.5,635.5 515.5,644.2 519.5,644.7 523.5,644.7 527.5,635.7 531.5,628.0 535.5,632.4 539.5,630.1 543.5,624.9 547.5,624.9 551.5,630.0 555.5,628.6 559.5,627.5 563.5,627.1 567.5,623.6 571.5,631.0 575.5,637.4 579.5,629.6 583.5,631.5 587.5,634.5 591.5,630.2 595.5,630.2 599.5,633.5 603.5,634.4 607.5,641.9 611.5,667.3 615.5,657.1 619.5,655.6 623.5,644.7 627.5,647.3 631.5,654.0 635.5,652.0 639.5,652.6 643.5,651.5 647.5,644.9 651.5,636.6 655.5,629.6 659.5,629.6 663.5,627.5 667.5,626.3 671.5,636.3 675.5,638.4 679.5,638.9 683.5,635.9 687.5,636.8 691.5,639.0 695.5,640.6 699.5,635.2 703.5,640.2 707.5,637.5 711.5,636.6 715.5,635.6 719.5,635.1 723.5,632.9 727.5,628.2 731.5,624.2 735.5,627.9 739.5,630.1 743.5,625.2 747.5,614.6 751.5,625.0 755.5,623.2 759.5,623.2 763.5,623.2 767.5,618.1 771.5,641.3 775.5,637.7 779.5,631.5 783.5,629.3 787.5,633.2 791.5,625.4 795.5,636.7 799.5,649.9 803.5,643.1 807.5,646.2 811.5,654.9 815.5,662.8 819.5,663.4 823.5,660.1 827.5,657.9 831.5,650.1 835.5,648.9 839.5,646.8 843.5,641.8 847.5,640.5 851.5,641.4 855.5,623.2 859.5,608.2 863.5,617.8 867.5,617.2 871.5,620.6 875.5,616.6 879.5,610.0 883.5,619.7 887.5,627.7 891.5,634.1 895.5,630.8 899.5,630.3 903.5,638.9 907.5,642.0 911.5,641.7 915.5,637.1 919.5,638.5 923.5,640.4 927.5,640.4 931.5,639.7 935.5,642.9 939.5,641.7 943.5,640.8 947.5,646.1 951.5,638.9 955.5,650.6 959.5,653.1 963.5,653.3 967.5,653.8 971.5,658.8 975.5,663.6 979.5,656.4 983.5,651.4 987.5,639.7 991.5,637.9 995.5,639.3 999.5,633.5 1003.5,635.7 1007.5,622.8 1011.5,617.0 1015.5,620.3 1019.5,622.8 1023.5,617.6 1027.5,608.4 1031.5,628.2 1035.5,626.9 1039.5,626.9 1043.5,629.2 1047.5,628.3 1051.5,629.9 1055.5,624.7 1059.5,624.1 1063.5,621.5 1067.5,626.5 1071.5,625.1 1075.5,627.8 1079.5,631.7 1083.5,634.7 1087.5,626.8 1091.5,622.0 1095.5,620.5 1099.5,597.7 1103.5,602.8 1107.5,597.3 1111.5,614.4 1115.5,612.8 1119.5,620.4 1123.5,615.0 1127.5,607.5 1131.5,605.8 1135.5,612.5 1139.5,611.4 1143.5,605.8 1147.5,610.6 1151.5,615.2 1155.5,617.7 1159.5,619.2 1163.5,619.0 1167.5,617.3 1171.5,617.6 1175.5,611.3 1179.5,618.4 1183.5,618.4 1187.5,609.6 1191.5,601.1 1195.5,610.6 1199.5,603.3 1203.5,607.3 1207.5,618.1 1211.5,617.9" fill="none" stroke="#1e90ff" stroke-width="1"/>
<path d="M2 2.5H1224M2 557.5H1224M2 559.5H1224M2 696.5H1224M2.5 2V558M2.5 559V697M1223.5 2V558M1223.5 559V697" stroke="#000080" stroke-width="1" fill="none"/>
<path d="M1224 4.5H1226M1224 57.5H1226M1224 110.5H1226M1224 163.5H1226M1224 216.5H1226M1224 269.5H1226M1224 323.5H1226M1224 376.5H1226M1224 429.5H1226M1224 482.5H1226M1224 535.5H1226M1224 561.5H1225M1224 695.5H1225M3.5 697V700M99.5 697V700M195.5 697V700M291.5 697V700M387.5 697V700M483.5 697V700M579.5 697V700M675.5 697V700M771.5 697V700M867.5 697V700M963.5 697V700M1059.5 697V700M1155.5 697V700" stroke="#000080" stroke-width="1" fill="none"/>
<g shape-rendering="auto" text-rendering="geometricPrecision">
<text x="1230" y="9" textLength="39" lengthAdjust="spacingAndGlyphs">1.0680</text>
<text x="1230" y="62" textLength="39" lengthAdjust="spacingAndGlyphs">1.0630</text>
<text x="1230" y="115" textLength="39" lengthAdjust="spacingAndGlyphs">1.0580</text>
<text x="1230" y="168" textLength="39" lengthAdjust="spacingAndGlyphs">1.0530</text>
<text x="1230" y="221" textLength="39" lengthAdjust="spacingAndGlyphs">1.0480</text>
<text x="1230" y="274" textLength="39" lengthAdjust="spacingAndGlyphs">1.0430</text>
<text x="1230" y="328" textLength="39" lengthAdjust="spacingAndGlyphs">1.0380</text>
<text x="1230" y="381" textLength="39" lengthAdjust="spacingAndGlyphs">1.0330</text>
<text x="1230" y="434" textLength="39" lengthAdjust="spacingAndGlyphs">1.0280</text>
<text x="1230" y="487" textLength="39" lengthAdjust="spacingAndGlyphs">1.0230</text>
<text x="1230" y="540" textLength="39" lengthAdjust="spacingAndGlyphs">1.0180</text>
<text x="1226" y="573">100</text>
<text x="1226" y="606">70</text>
<text x="1226" y="660">30</text>
<text x="1227" y="693">0</text>
<rect x="1225" y="227" width="49" height="14" fill="#000080" shape-rendering="crispEdges"/>
<text x="1230" y="239" textLength="39" lengthAdjust="spacingAndGlyphs" style="fill:#fff">1.0463</text>
<text x="3" y="712">13 Nov 2024</text>
<text x="99" y="712">19 Nov 12:00</text>
<text x="195" y="712">25 Nov 12:00</text>
<text x="291" y="712">29 Nov 12:00</text>
<text x="387" y="712">5 Dec 12:00</text>
<text x="483" y="712">11 Dec 12:00</text>
<text x="579" y="712">17 Dec 12:00</text>
<text x="675" y="712">23 Dec 12:00</text>
<text x="771" y="712">30 Dec 12:00</text>
<text x="867" y="712">6 Jan 20:00</text>
<text x="963" y="712">10 Jan 20:00</text>
<text x="1059" y="712">16 Jan 20:00</text>
<text x="1155" y="712">22 Jan 20:00</text>
</g>
</svg></body></html>
